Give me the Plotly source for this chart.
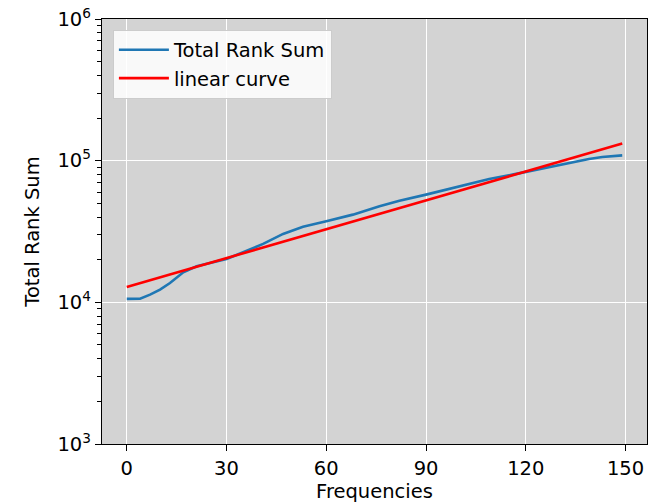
import plotly.graph_objects as go

# Data
freq = [0, 4, 7, 10, 13, 17, 21, 26, 30, 35, 41, 47, 53, 60, 68, 76, 82, 90,
        97, 103, 109, 116, 120, 127, 133, 139, 143, 149]
rank_sum = [10570, 10600, 11330, 12300, 13700, 16300, 17950, 19150, 20250,
            22540, 25840, 30400, 34100, 37300, 41600, 47640, 52200, 57600,
            63200, 68500, 74300, 79700, 83300, 89800, 96400, 102800, 106100,
            108900]
fit_x = [0, 149]
fit_y = [12840, 132000]

x_ticks = [0, 30, 60, 90, 120, 150]
y_ticks = [1e3, 1e4, 1e5, 1e6]
y_ticktext = ["10<sup>3</sup>", "10<sup>4</sup>", "10<sup>5</sup>", "10<sup>6</sup>"]
y_minor = [m * 10 ** k for k in range(3, 6) for m in range(2, 10)]

FONT = "DejaVu Sans"
FS = 19.5

fig = go.Figure()
fig.add_trace(go.Scatter(x=freq, y=rank_sum, mode="lines", name="Total Rank Sum",
                         line=dict(color="#1f77b4", width=2.6)))
fig.add_trace(go.Scatter(x=fit_x, y=fit_y, mode="lines", name="linear curve",
                         line=dict(color="#ff0000", width=2.6)))

fig.update_layout(
    width=652, height=504,
    margin=dict(l=102, r=5, t=19, b=60),
    paper_bgcolor="white",
    plot_bgcolor="#d3d3d3",
    font=dict(family=FONT, size=FS, color="black"),
    showlegend=True,
    legend=dict(x=0.02, y=0.975, xanchor="left", yanchor="top",
                bgcolor="rgba(255,255,255,0.85)", bordercolor="#cccccc",
                borderwidth=1, font=dict(size=FS, family=FONT),
                traceorder="normal", itemwidth=50),
    xaxis=dict(
        range=[-7.45, 156.45], tickvals=x_ticks, ticks="outside", ticklen=6,
        tickwidth=1.3, tickcolor="black", showline=True, linecolor="black",
        linewidth=1.3, mirror=True, showgrid=True, gridcolor="white",
        gridwidth=1, zeroline=False,
        title=dict(text="Frequencies", standoff=4, font=dict(size=FS)),
        tickfont=dict(size=FS),
    ),
    yaxis=dict(
        type="log", range=[3, 6], tickvals=y_ticks, ticktext=y_ticktext,
        ticks="outside", ticklen=6, tickwidth=1.3, tickcolor="black",
        showline=True, linecolor="black", linewidth=1.3, mirror=True,
        showgrid=True, gridcolor="white", gridwidth=1, zeroline=False,
        minor=dict(tickvals=y_minor, ticks="outside", ticklen=3.5,
                   tickwidth=1, tickcolor="black", showgrid=False),
        title=dict(text="Total Rank Sum", standoff=12, font=dict(size=FS)),
        tickfont=dict(size=FS),
    ),
)

fig.write_html("out.html")
